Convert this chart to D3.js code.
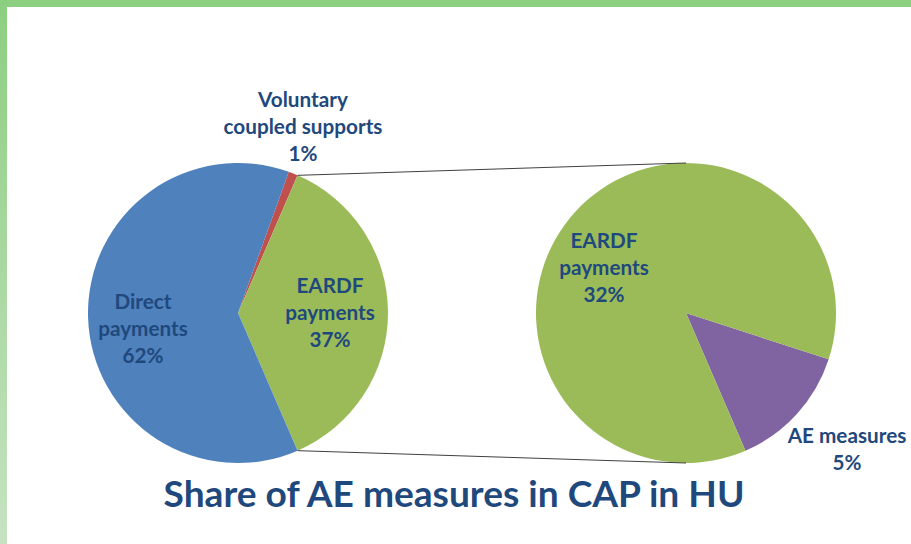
<!DOCTYPE html>
<html><head><meta charset="utf-8">
<script src="https://cdn.jsdelivr.net/npm/d3@7"></script>
<style>html,body{margin:0;padding:0;background:#fff;overflow:hidden}</style>
</head><body><svg id="c" width="911" height="544"></svg>
<script>
// ---- data ----
const mainCategories = ["Voluntary coupled supports", "EARDF payments", "Direct payments"];
const mainValues = [1, 37, 62];
const mainLabels = [["Voluntary", "coupled supports", "1%"], ["EARDF", "payments", "37%"], ["Direct", "payments", "62%"]];
const subCategories = ["AE measures", "EARDF payments"];
const subValues = [5, 32];
const subLabels = [["AE measures", "5%"], ["EARDF", "payments", "32%"]];
const titleText = "Share of AE measures in CAP in HU";

// ---- style / layout ----
const mainColors = ["#c0504d", "#9bbb59", "#4f81bd"];
const subColors = ["#8064a2", "#9bbb59"];
const textColor = "#1f497d";
const font = "Lato, 'Open Sans', sans-serif";
const W = 911, H = 544, R = 150;
const mainC = [238, 313], subC = [686, 313];
const lineH = 27;
// label anchor offsets (center x, first baseline) relative to pie centre
const mainLabelPos = [[65, -206], [92, -20], [-95, -4]];
const subLabelPos = [[161, 130], [-82, -65]];

const svg = d3.select("#c");
// frame
const defs = svg.append("defs");
const g1 = defs.append("linearGradient").attr("id", "lg").attr("x1", 0).attr("y1", 0).attr("x2", 0).attr("y2", 1);
g1.append("stop").attr("offset", "0%").attr("stop-color", "#8ccf80");
g1.append("stop").attr("offset", "100%").attr("stop-color", "#c6e2c2");
svg.append("rect").attr("x", 0).attr("y", 0).attr("width", 7).attr("height", H).attr("fill", "url(#lg)");
svg.append("rect").attr("x", 0).attr("y", 0).attr("width", W).attr("height", 7).attr("fill", "#8ccf80");

const tau = 2 * Math.PI;
const total = d3.sum(mainValues);
const splitIdx = 1;
const mainStart = Math.PI / 2 - (mainValues[1] / total) * Math.PI - (mainValues[0] / total) * tau;
const mainPie = d3.pie().sort(null).startAngle(mainStart).endAngle(mainStart + tau);
const subStart = 108 * Math.PI / 180;
const subPie = d3.pie().sort(null).startAngle(subStart).endAngle(subStart + tau);
const arc = d3.arc().innerRadius(0).outerRadius(R);

const mainArcs = mainPie(mainValues);
const subArcs = subPie(subValues);

const gm = svg.append("g").attr("transform", `translate(${mainC})`);
gm.selectAll("path").data(mainArcs).join("path").attr("d", arc).attr("fill", (d, i) => mainColors[i]);
const gs = svg.append("g").attr("transform", `translate(${subC})`);
gs.selectAll("path").data(subArcs).join("path").attr("d", arc).attr("fill", (d, i) => subColors[i]);

// connector lines
const pt = (c, a, r) => [c[0] + r * Math.sin(a), c[1] - r * Math.cos(a)];
const sa = mainArcs[splitIdx];
const conn = [[pt(mainC, sa.startAngle, R), pt(subC, 0, R)], [pt(mainC, sa.endAngle, R), pt(subC, Math.PI, R)]];
svg.selectAll("line.conn").data(conn).join("line").attr("class", "conn")
  .attr("x1", d => d[0][0]).attr("y1", d => d[0][1]).attr("x2", d => d[1][0]).attr("y2", d => d[1][1])
  .attr("stroke", "#404040").attr("stroke-width", 1);

// measure label font size so "coupled supports" is ~159px wide
const probe = svg.append("text").attr("font-family", font).attr("font-weight", "bold").attr("font-size", 20).text(mainLabels[0][1]);
const lblSize = 20 * 159 / probe.node().getComputedTextLength();
probe.remove();

function labels(c, lines, pos) {
  lines.forEach((ls, i) => {
    const t = svg.append("text").attr("class", "lbl").attr("text-anchor", "middle")
      .attr("font-family", font).attr("font-weight", "bold").attr("font-size", lblSize).attr("fill", textColor);
    ls.forEach((s, j) => t.append("tspan").attr("x", c[0] + pos[i][0]).attr("y", c[1] + pos[i][1] + j * lineH).text(s));
  });
}
labels(mainC, mainLabels, mainLabelPos);
labels(subC, subLabels, subLabelPos);

const title = svg.append("text").attr("x", 454).attr("y", 507).attr("text-anchor", "middle")
  .attr("font-family", font).attr("font-weight", "bold").attr("font-size", 35).attr("fill", textColor).text(titleText);
// fit title width to ~581px
const tw = title.node().getComputedTextLength();
title.attr("font-size", 35 * 581 / tw);
</script></body></html>
